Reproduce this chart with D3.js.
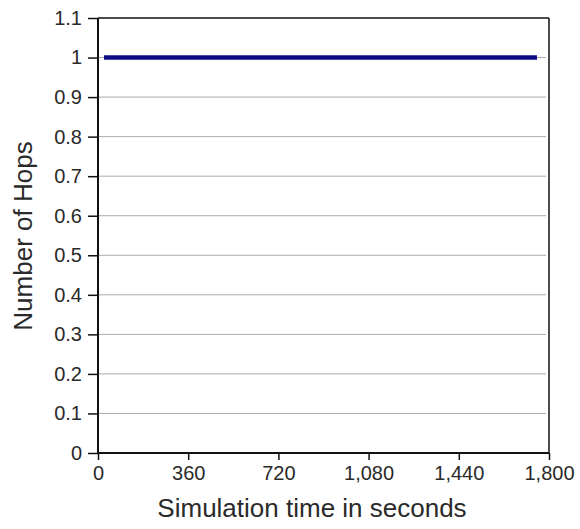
<!DOCTYPE html>
<html><head><meta charset="utf-8">
<script src="https://cdn.jsdelivr.net/npm/d3@7"></script>
<style>body{margin:0;background:#fff}text{font-family:"Liberation Sans",Arial,sans-serif;fill:#2a2a2a}</style>
</head><body><svg id="c" width="580" height="529"></svg>
<script>
const times = [24, 360, 720, 1080, 1440, 1752];
const hops = [1, 1, 1, 1, 1, 1];
const yTicks = [0, 0.1, 0.2, 0.3, 0.4, 0.5, 0.6, 0.7, 0.8, 0.9, 1, 1.1];
const xTicks = [0, 360, 720, 1080, 1440, 1800];

const svg = d3.select("#c");
const L = 98, R = 549, T = 18, B = 453;
const x = d3.scaleLinear().domain([0, 1800]).range([L, R]);
const y = d3.scaleLinear().domain([0, 1.1]).range([B, T]);

// gridlines
svg.append("g").selectAll("line").data(yTicks.filter(d => d > 0 && d < 1.1)).join("line")
  .attr("x1", L).attr("x2", R - 3).attr("y1", d => y(d)).attr("y2", d => y(d))
  .attr("stroke", "#ababab").attr("stroke-width", 1);

// frame top/right
svg.append("line").attr("x1", L).attr("x2", R).attr("y1", T).attr("y2", T).attr("stroke", "#111").attr("stroke-width", 1.5);
svg.append("line").attr("x1", R).attr("x2", R).attr("y1", T).attr("y2", B).attr("stroke", "#111").attr("stroke-width", 1.5);

const yAxis = svg.append("g").attr("transform", `translate(${L},0)`)
  .call(d3.axisLeft(y).tickValues(yTicks).tickFormat(d => d3.format("")(+d.toFixed(1))).tickSize(10).tickPadding(6));
const xAxis = svg.append("g").attr("transform", `translate(0,${B})`)
  .call(d3.axisBottom(x).tickValues(xTicks).tickFormat(d3.format(",")).tickSize(7).tickPadding(6));
[yAxis, xAxis].forEach(a => {
  a.attr("font-size", null).attr("font-family", null);
  a.select(".domain").attr("stroke", "#111").attr("stroke-width", 2);
  a.selectAll(".tick line").attr("stroke", "#111").attr("stroke-width", 1.5);
  a.selectAll("text").style("font-size", "20px").attr("fill", "#2a2a2a");
});
xAxis.select(".domain").attr("d", `M${L},0H${R}`);
yAxis.select(".domain").attr("d", `M0,${B}V${T}`);

// data line
svg.append("path").datum(times.map((t, i) => [t, hops[i]]))
  .attr("d", d3.line().x(d => x(d[0])).y(d => y(d[1])))
  .attr("fill", "none").attr("stroke", "#0c0c86").attr("stroke-width", 4.5);

svg.append("text").attr("x", 312).attr("y", 517).attr("text-anchor", "middle")
  .style("font-size", "26px").text("Simulation time in seconds");
svg.append("text").attr("transform", `translate(32,236) rotate(-90)`).attr("text-anchor", "middle")
  .style("font-size", "26px").text("Number of Hops");
</script></body></html>
